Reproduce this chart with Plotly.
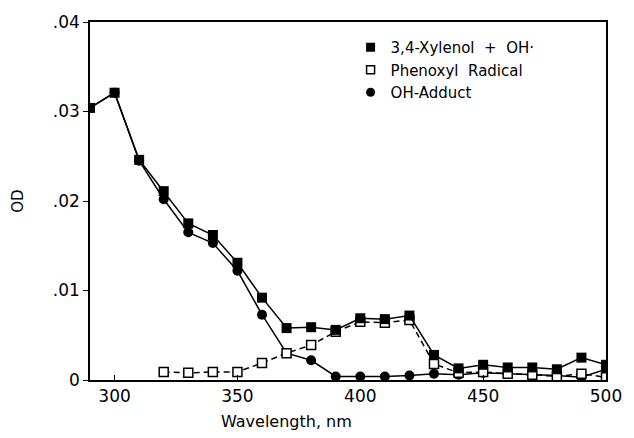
import plotly.graph_objects as go

wl = [290, 300, 310, 320, 330, 340, 350, 360, 370, 380, 390,
      400, 410, 420, 430, 440, 450, 460, 470, 480, 490, 500]
xylenol = [0.0304, 0.0321, 0.0246, 0.0211, 0.0175, 0.0162, 0.0131, 0.0092, 0.0058, 0.0059, 0.0056,
           0.0069, 0.0068, 0.0072, 0.0028, 0.0013, 0.0017, 0.0014, 0.0014, 0.0012, 0.0025, 0.0017]
adduct = [0.0304, 0.0321, 0.0245, 0.0202, 0.0165, 0.0153, 0.0122, 0.0073, 0.0030, 0.0022, 0.0004,
          0.0004, 0.0004, 0.0005, 0.0007, 0.0006, 0.0008, 0.0007, 0.0006, 0.0005, 0.0003, 0.0012]
wl_phen = [320, 330, 340, 350, 360, 370, 380, 390, 400, 410, 420,
           430, 440, 450, 460, 470, 480, 490, 500]
phenoxyl = [0.0009, 0.0008, 0.0009, 0.0009, 0.0019, 0.0030, 0.0039, 0.0054, 0.0065, 0.0064, 0.0067,
            0.0018, 0.0008, 0.0009, 0.0007, 0.0006, 0.0004, 0.0007, 0.0003]

names = ["3,4-Xylenol  +  OH·", "Phenoxyl  Radical", "OH-Adduct"]
x_ticks = [300, 350, 400, 450, 500]
y_ticks = [0, 0.01, 0.02, 0.03, 0.04]
y_ticktext = ["0", ".01", ".02", ".03", ".04"]

FONT = "DejaVu Sans"
fig = go.Figure()
line = dict(color="black", width=1.5)

fig.add_trace(go.Scatter(x=wl, y=adduct, mode="lines+markers", line=line,
                         marker=dict(symbol="circle", size=10, color="black"), showlegend=False))
fig.add_trace(go.Scatter(x=wl_phen, y=phenoxyl, mode="lines+markers",
                         line=dict(color="black", width=1.5, dash="6px,4px"),
                         marker=dict(symbol="square", size=9, color="white",
                                     line=dict(color="black", width=1.5)), showlegend=False))
fig.add_trace(go.Scatter(x=wl, y=xylenol, mode="lines+markers", line=line,
                         marker=dict(symbol="square", size=10, color="black"), showlegend=False))

# legend-only entries (markers only)
fig.add_trace(go.Scatter(x=[None], y=[None], mode="markers", name=names[0],
                         marker=dict(symbol="square", size=9, color="black")))
fig.add_trace(go.Scatter(x=[None], y=[None], mode="markers", name=names[1],
                         marker=dict(symbol="square", size=8, color="white",
                                     line=dict(color="black", width=1.5))))
fig.add_trace(go.Scatter(x=[None], y=[None], mode="markers", name=names[2],
                         marker=dict(symbol="circle", size=9, color="black")))

fig.update_layout(
    width=634, height=438,
    margin=dict(l=90, r=22, t=21, b=58),
    paper_bgcolor="white", plot_bgcolor="white",
    font=dict(family=FONT, size=16, color="black"),
    legend=dict(x=0.505, y=0.975, xanchor="left", yanchor="top",
                bgcolor="rgba(0,0,0,0)", font=dict(size=15), itemwidth=30,
                tracegroupgap=0),
    xaxis=dict(range=[290, 500], tickvals=x_ticks, ticks="inside", ticklen=5,
               showgrid=False, zeroline=False, showline=True, linecolor="black",
               linewidth=1.5, mirror=True, tickcolor="black",
               tickfont=dict(size=17)),
    yaxis=dict(range=[0, 0.04], tickvals=y_ticks, ticktext=y_ticktext,
               ticks="outside", ticklen=5, showgrid=False, zeroline=False,
               showline=True, linecolor="black", linewidth=1.5, mirror=True,
               tickcolor="black", tickfont=dict(size=17),
               title=dict(text="OD", standoff=26, font=dict(size=15))),
    annotations=[dict(text="Wavelength, nm", xref="paper", yref="paper",
                      x=0.381, y=-0.115, xanchor="center", yanchor="middle",
                      showarrow=False, font=dict(size=16))],
)

fig.write_html("out.html")
